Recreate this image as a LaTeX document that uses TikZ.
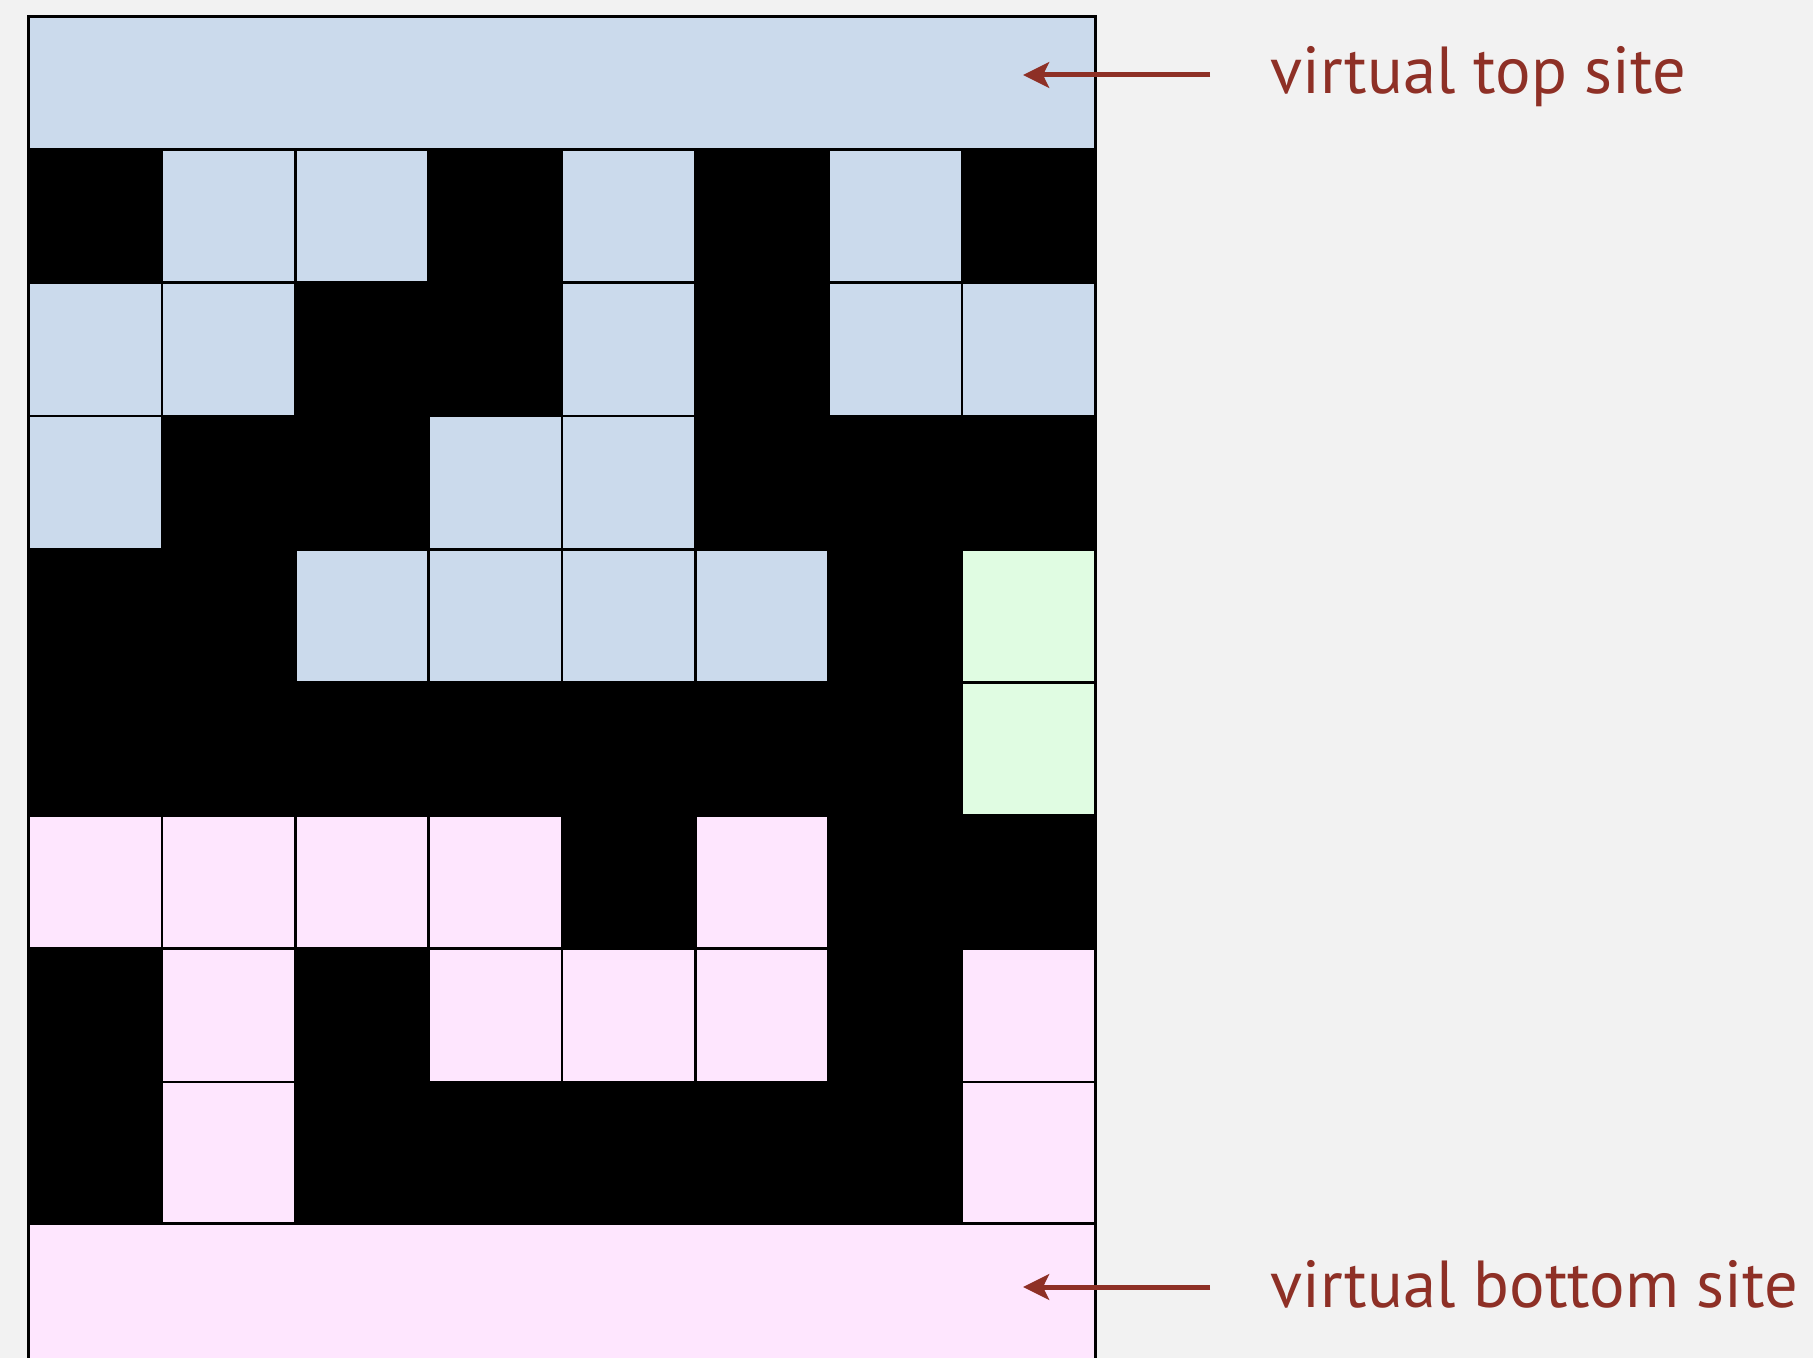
\documentclass[tikz,border=0pt]{standalone}
\usepackage{fontspec}
\setmainfont{PT Sans}
\usetikzlibrary{arrows.meta}
\definecolor{bg}{RGB}{242,242,242}
\definecolor{openblue}{RGB}{203,218,236}
\definecolor{openpink}{RGB}{254,230,254}
\definecolor{opengreen}{RGB}{224,252,226}
\definecolor{darkred}{RGB}{142,48,38}
\begin{document}
\begin{tikzpicture}[x=0.4pt,y=-0.4pt,
  cellline/.style={draw=black,line width=1.08pt},
  outerline/.style={draw=black,line width=1.2pt},
  lbl/.style={inner sep=0pt,text=darkred,font=\fontsize{26.6}{32}\selectfont},
  arrowline/.style={draw=darkred,line width=2pt,-{Stealth[length=10.4pt,width=10.2pt,inset=2.4pt]}}]
\useasboundingbox (0,0) rectangle (1813,1358);
\clip (0,0) rectangle (1813,1358);
\fill[bg] (0,0) rectangle (1813,1358);
% blocked area
\fill[black] (28.5,149.6) rectangle (1095.5,1223);
% open cells
\foreach \c/\r/\k in {
  1/1/openblue,2/1/openblue,4/1/openblue,6/1/openblue,
  0/2/openblue,1/2/openblue,4/2/openblue,6/2/openblue,7/2/openblue,
  0/3/openblue,3/3/openblue,4/3/openblue,
  2/4/openblue,3/4/openblue,4/4/openblue,5/4/openblue,7/4/opengreen,
  7/5/opengreen,
  0/6/openpink,1/6/openpink,2/6/openpink,3/6/openpink,5/6/openpink,
  1/7/openpink,3/7/openpink,4/7/openpink,5/7/openpink,7/7/openpink,
  1/8/openpink,7/8/openpink}{
  \pgfmathsetmacro\xa{28.5+\c*133.375}
  \pgfmathsetmacro\xb{\xa+133.375}
  \pgfmathsetmacro\ya{149.6+(\r-1)*133.2}
  \pgfmathsetmacro\yb{ifthenelse(\r==8,1223,\ya+133.2)}
  \filldraw[fill=\k,cellline] (\xa,\ya) rectangle (\xb,\yb);
}
% virtual sites
\filldraw[fill=openblue,outerline] (28.5,16.5) rectangle (1095.5,149.6);
\filldraw[fill=openpink,outerline] (28.5,1223) rectangle (1095.5,1420);
\draw[outerline] (28.5,149.6) -- (28.5,1223);
\draw[outerline] (1095.5,149.6) -- (1095.5,1223);
% labels and arrows
\node[lbl,anchor=base west] (toplabel) at (1270,94) {virtual top site};
\node[lbl,anchor=base west] (botlabel) at (1270,1307) {virtual bottom site};
\coordinate (topstart) at (1210,75);
\coordinate (toptip) at (1023,75);
\coordinate (botstart) at (1210,1287);
\coordinate (bottip) at (1023,1287);
\draw[arrowline] (topstart) -- (toptip);
\draw[arrowline] (botstart) -- (bottip);
\end{tikzpicture}
\end{document}
